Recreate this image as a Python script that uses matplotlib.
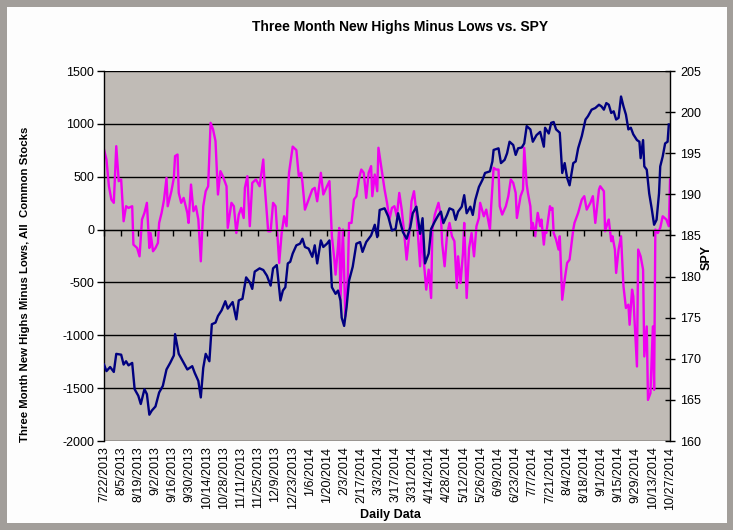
import matplotlib
matplotlib.use('Agg')
import matplotlib.pyplot as plt
from matplotlib.patches import Rectangle
import pandas as pd

plt.rcParams['font.family'] = ['Liberation Sans', 'DejaVu Sans']
plt.rcParams['axes.unicode_minus'] = False

start = pd.Timestamp('2013-07-22')

# new highs minus lows (left axis), days after 7/22/2013
hl_days = [0, 2, 4, 6, 8, 10, 12, 14, 16, 18,
           20, 23, 24, 27, 29, 31, 33, 35, 37, 38,
           40, 42, 44, 45, 47, 49, 51, 52, 55, 57,
           58, 60, 61, 63, 65, 68, 69, 71, 73, 75,
           77, 79, 81, 83, 85, 87, 89, 91, 93, 95,
           97, 100, 101, 104, 106, 108, 110, 112, 114, 115,
           117, 119, 121, 124, 127, 130, 131, 134, 136, 138,
           140, 143, 145, 147, 149, 151, 154, 157, 159, 161,
           162, 164, 167, 170, 172, 174, 177, 179, 182, 184,
           186, 188, 189, 191, 192, 193, 195, 197, 199, 200,
           202, 204, 206, 208, 210, 212, 214, 216, 218, 219,
           221, 223, 224, 227, 229, 231, 233, 235, 237, 239,
           241, 243, 245, 247, 249, 251, 253, 255, 258, 259,
           261, 263, 265, 267, 268, 270, 273, 275, 276, 278,
           280, 282, 284, 286, 288, 289, 291, 293, 294, 296,
           298, 300, 302, 304, 306, 307, 310, 312, 315, 316,
           318, 320, 322, 323, 325, 328, 330, 332, 334, 336,
           337, 340, 342, 343, 345, 346, 348, 349, 350, 352,
           353, 354, 356, 357, 359, 360, 361, 364, 365, 366,
           367, 369, 371, 372, 374, 376, 378, 380, 383, 384,
           387, 390, 392, 394, 397, 399, 401, 404, 405, 408,
           409, 411, 412, 414, 415, 417, 418, 420, 422, 424,
           426, 428, 429, 431, 432, 435, 436, 438, 440, 441,
           443, 444, 446, 448, 449, 450, 452, 454, 456, 459, 461, 462]
hl_vals = [758, 663, 410, 284, 253, 789, 458, 474, 79, 221,
           205, 221, -142, -174, -253, 95, 158, 253, -174, -32,
           -205, -174, -126, 63, 158, 284, 489, 221, 363, 489,
           695, 710, 347, 253, 300, 158, 63, 426, 174, 221,
           95, -300, 221, 363, 410, 1010, 947, 837, 332, 553,
           505, 410, 16, 253, 221, -32, 142, 205, 110, 395,
           505, 32, 442, 474, 410, 663, 442, -16, -16, 253,
           221, -316, -32, 126, 32, 537, 785, 752, 505, 537,
           442, 189, 284, 379, 395, 268, 537, 332, 410, 458,
           -63, -284, -426, -158, 16, -663, 0, -821, -442, 63,
           63, 284, 316, 474, 568, 537, 300, 537, 600, 316,
           521, 363, 774, 537, 379, 253, 95, 205, 221, 126,
           347, 189, -32, -284, -63, 268, 363, 158, -347, -32,
           -300, -568, -379, -647, 0, 142, 253, 126, -126, -347,
           -47, 63, -63, -110, -553, -253, -505, -221, 63, -647,
           -174, -32, -253, 32, 110, 253, 126, 189, 0, 221,
           584, 568, 568, 221, 142, 221, 316, 474, 442, 347,
           110, 316, 379, 774, 426, 347, 221, 0, 63, -63,
           63, 158, 32, 95, -142, -16, -32, 221, 189, 205,
           -32, -95, -189, -63, -663, -474, -316, -284, 0, 63,
           158, 284, 316, 189, 253, 316, 63, 379, 410, 363,
           -16, 63, 95, -110, -63, -189, -410, -189, -63, -537,
           -742, -710, -900, -568, -631, -1295, -189, -253, -379, -1200,
           -916, -1611, -1547, -916, -1516, 0, -32, 16, 126, 95, 32, 474]

# SPY close (right axis)
spy_days = [0, 2, 5, 8, 10, 14, 16, 18, 20, 23,
            25, 28, 30, 33, 35, 37, 39, 42, 45, 48,
            51, 54, 57, 58, 61, 65, 68, 72, 74, 77,
            79, 81, 83, 86, 88, 91, 93, 96, 99, 101,
            105, 108, 110, 113, 116, 119, 121, 123, 127, 130,
            133, 136, 138, 141, 144, 146, 148, 150, 152, 154,
            157, 160, 162, 164, 167, 170, 172, 174, 177, 179,
            182, 184, 186, 189, 191, 193, 194, 196, 198, 200,
            203, 206, 209, 211, 214, 218, 221, 223, 225, 229,
            232, 235, 238, 240, 242, 244, 247, 250, 252, 255,
            258, 260, 262, 265, 267, 270, 273, 275, 277, 280,
            282, 285, 287, 289, 292, 294, 296, 299, 301, 303,
            306, 309, 311, 315, 317, 318, 322, 324, 327, 329,
            331, 334, 336, 338, 341, 343, 345, 348, 350, 353,
            356, 359, 360, 363, 365, 367, 369, 372, 374, 376,
            378, 380, 383, 385, 387, 390, 393, 395, 398, 401,
            404, 406, 408, 410, 412, 414, 416, 418, 420, 422,
            424, 426, 428, 430, 432, 435, 437, 438, 440, 441,
            443, 445, 447, 449, 451, 453, 454, 456, 458, 460, 461]
spy_vals = [169.3, 168.5, 169.0, 168.4, 170.6, 170.5, 169.3, 169.7, 169.2, 169.5,
            166.3, 165.5, 164.5, 166.3, 165.7, 163.2, 163.7, 164.2, 165.9, 166.7,
            168.7, 169.5, 170.4, 173.0, 170.6, 169.5, 168.7, 169.1, 168.3, 167.3,
            165.3, 168.9, 170.6, 169.7, 174.2, 174.4, 175.2, 175.9, 177.0, 176.1,
            176.9, 174.8, 177.1, 177.3, 179.9, 179.3, 178.5, 180.6, 181.0, 180.8,
            180.1, 178.9, 181.0, 181.4, 177.1, 178.3, 178.7, 181.6, 181.8, 182.8,
            183.8, 184.0, 184.6, 183.6, 183.4, 182.4, 183.8, 181.6, 184.4, 183.6,
            184.0, 184.4, 178.7, 177.9, 178.3, 177.1, 175.0, 174.0, 176.3, 179.5,
            181.2, 184.0, 184.2, 183.0, 184.2, 185.0, 186.3, 184.8, 188.1, 188.3,
            187.3, 185.6, 185.8, 187.7, 186.5, 185.4, 184.6, 186.0, 187.7, 188.5,
            185.2, 187.1, 181.6, 182.8, 185.8, 186.7, 187.5, 187.9, 186.5, 187.5,
            188.3, 188.1, 186.9, 187.9, 188.5, 189.9, 187.7, 188.5, 187.5, 189.3,
            190.9, 191.8, 192.6, 192.8, 194.0, 195.4, 195.6, 193.8, 194.2, 195.0,
            196.4, 196.0, 194.8, 195.6, 195.7, 196.2, 198.3, 197.9, 196.4, 197.2,
            197.6, 195.8, 198.1, 197.4, 198.7, 198.8, 197.9, 197.5, 192.6, 193.8,
            192.0, 191.1, 193.8, 194.0, 195.6, 197.1, 199.1, 199.5, 200.3, 200.5,
            200.9, 200.7, 200.3, 201.1, 200.9, 199.9, 200.1, 199.1, 199.3, 201.9,
            200.7, 199.7, 197.9, 198.1, 197.3, 196.6, 196.4, 194.4, 196.6, 193.4,
            193.0, 190.1, 188.3, 186.3, 186.9, 190.1, 193.4, 194.6, 196.2, 196.4, 198.5]

hl_dates = start + pd.to_timedelta(hl_days, unit='D')
spy_dates = start + pd.to_timedelta(spy_days, unit='D')
tick_dates = pd.date_range('2013-07-22', '2014-10-27', freq='14D')
tick_labels = [f'{d.month}/{d.day}/{d.year}' for d in tick_dates]

fig = plt.figure(figsize=(7.33, 5.30), dpi=100, facecolor='#a29e9a')
fig.patches.append(Rectangle((0.0095, 0.0132), 0.9823, 0.9736, transform=fig.transFigure,
                             facecolor='#fdfdfd', edgecolor='none', zorder=-10))

ax = fig.add_axes([0.1419, 0.1679, 0.7722, 0.6981])
ax.set_facecolor('#c0bbb6')
ax.plot(hl_dates, hl_vals, color='#f000f0', lw=1.7)
ax.set_ylim(-2000, 1500)
ax.set_yticks(range(-2000, 1501, 500))
ax.set_xlim(tick_dates[0], tick_dates[-1])
ax.set_xticks(tick_dates)
ax.set_xticklabels(tick_labels, rotation=90, fontsize=9)
ax.yaxis.grid(True, color='black', lw=1)
ax.set_axisbelow(True)
for s in ['top', 'bottom', 'right']:
    ax.spines[s].set_visible(False)
ax.spines['left'].set_linewidth(1)
ax.tick_params(axis='y', direction='out', length=5, width=1, labelsize=9, pad=2)
ax.tick_params(axis='x', length=0, pad=4)

# category axis crosses at zero: its tick marks sit on the 0 line
axz = ax.twinx()
axz.set_ylim(ax.get_ylim())
axz.xaxis.set_visible(True)
axz.yaxis.set_visible(False)
for s in ['top', 'left', 'right']:
    axz.spines[s].set_visible(False)
axz.spines['bottom'].set_position(('data', 0))
axz.spines['bottom'].set_color('black')
axz.set_xticks(tick_dates)
axz.tick_params(axis='x', direction='out', length=4, width=1, color='black',
                labelbottom=False, bottom=True, top=False)

ax2 = ax.twinx()
ax2.plot(spy_dates, spy_vals, color='#000080', lw=1.7)
ax2.set_ylim(160, 205)
ax2.set_yticks(range(160, 206, 5))
for s in ['top', 'bottom', 'left']:
    ax2.spines[s].set_visible(False)
ax2.spines['right'].set_linewidth(1)
ax2.tick_params(axis='y', direction='inout', length=7, width=1, labelsize=9, pad=4)

fig.text(0.5457, 0.949, 'Three Month New Highs Minus Lows vs. SPY', ha='center', va='center',
         fontsize=10, fontweight='bold')
fig.text(0.034, 0.464, 'Three Month New Highs Minus Lows, All  Common Stocks', rotation=90,
         ha='center', va='center', fontsize=8.2, fontweight='bold')
fig.text(0.9645, 0.515, 'SPY', rotation=90, ha='center', va='center', fontsize=9, fontweight='bold')
fig.text(0.532, 0.028, 'Daily Data', ha='center', va='center', fontsize=9, fontweight='bold')

fig.savefig('out.png', dpi=100, facecolor=fig.get_facecolor())
